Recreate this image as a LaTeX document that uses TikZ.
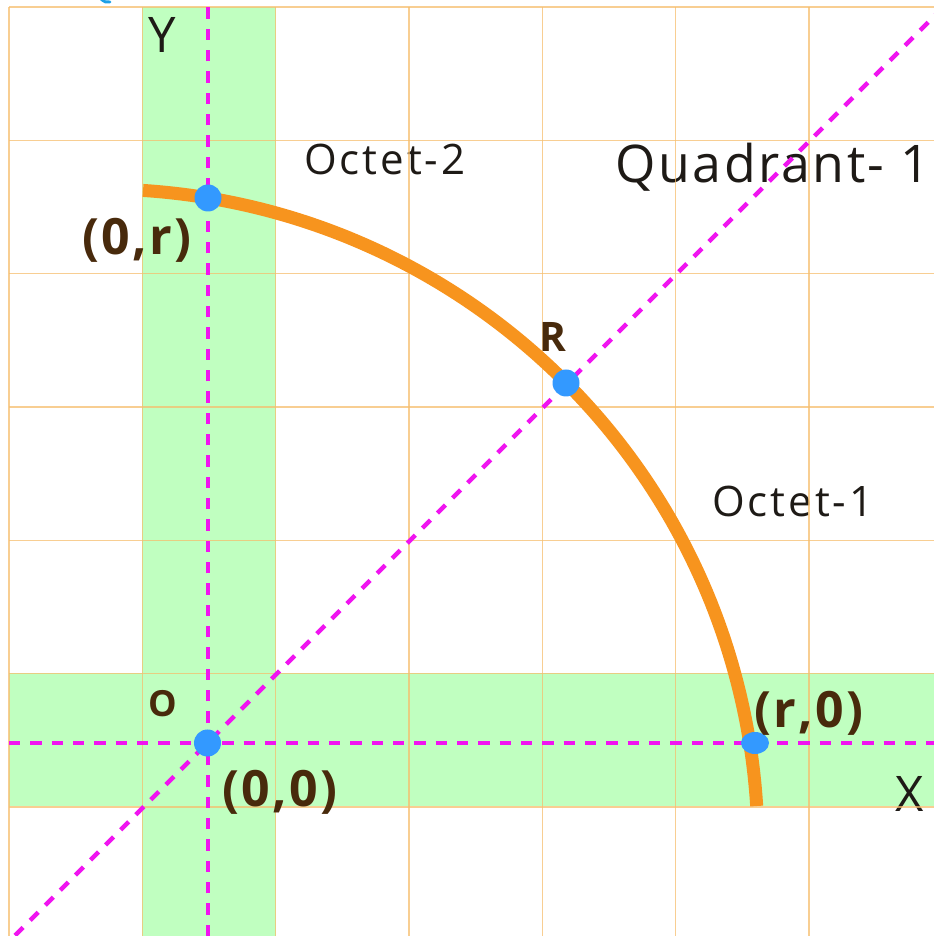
\documentclass[tikz,border=0pt]{standalone}
\usepackage{fontspec}
\setmainfont{Open Sans}
\newfontfamily\spacedfont[LetterSpace=7]{Open Sans}
\newfontfamily\quadfont[LetterSpace=5]{Open Sans}
\newfontfamily\boldspaced[LetterSpace=5]{Open Sans}
\usetikzlibrary{shapes.geometric}
\definecolor{bandgreen}{RGB}{192,255,192}
\definecolor{gridorange}{RGB}{245,190,110}
\definecolor{dashmag}{RGB}{240,20,240}
\definecolor{arcorange}{RGB}{247,148,30}
\definecolor{dotblue}{RGB}{51,153,255}
\definecolor{labelbrown}{RGB}{72,42,12}
\definecolor{labeldark}{RGB}{30,26,22}
\definecolor{cyanmark}{RGB}{30,160,230}
\begin{document}
\begin{tikzpicture}[x=0.75pt,y=0.75pt,
  gridline/.style={draw=gridorange, line width=1.1pt, opacity=0.75},
  axisdash/.style={draw=dashmag, line width=3.4pt, dash pattern=on 8.5pt off 7.5pt},
  arcline/.style={draw=arcorange, line width=9.75pt},
  dotmark/.style={circle, fill=dotblue, inner sep=0pt, minimum size=20.25pt},
  axislabel/.style={text=labeldark, inner sep=0pt, font=\fontsize{36.8pt}{40pt}\selectfont},
  octlabel/.style={text=labeldark, inner sep=0pt, font=\spacedfont\fontsize{31.5pt}{34pt}\selectfont},
  quadlabel/.style={text=labeldark, inner sep=0pt, font=\quadfont\fontsize{38.9pt}{42pt}\selectfont},
  boldlabel/.style={text=labelbrown, inner sep=0pt, font=\boldspaced\bfseries\fontsize{37.5pt}{40pt}\selectfont},
  smallbold/.style={text=labelbrown, inner sep=0pt, font=\bfseries\fontsize{30.5pt}{33pt}\selectfont},
]
\useasboundingbox (0,0) rectangle (934,936);
\begin{scope}
\clip (0,0) rectangle (934,936);
% green bands
\fill[bandgreen] (142,0) rectangle (276,929);
\fill[bandgreen] (9,130) rectangle (934,263);
% plain labels (under the grid)
\node[axislabel, anchor=base] (ylab) at (162.5,883) {Y};
\node[axislabel, anchor=base] (xlab) at (910,124) {X};
\node[quadlabel, anchor=base west] (quad) at (615,753) {Quadrant- 1};
\node[octlabel, anchor=base west] (oct2) at (304,761) {Octet-2};
\node[octlabel, anchor=base west] (oct1) at (712,419) {Octet-1};
% grid
\foreach \i in {0,...,7} {
  \draw[gridline] (9+133.33*\i,0) -- (9+133.33*\i,929);
  \draw[gridline] (9,929-133.33*\i) -- (934,929-133.33*\i);
}
% axes and diagonal
\coordinate (ytop) at (208,929);
\coordinate (ybot) at (208,0);
\coordinate (xleft) at (9,193);
\coordinate (xright) at (934,193);
\coordinate (dlow) at (0,-14.5);
\coordinate (dhigh) at (950,935.5);
\draw[axisdash] (ybot) -- (ytop);
\draw[axisdash] (xleft) -- (xright);
\draw[axisdash] (dlow) -- (dhigh);
% arc
\coordinate (arccentre) at (100,89);
\draw[arcline] (arccentre) ++(86.25:658) arc[start angle=86.25, end angle=3.57, radius=658];
% dots
\node[dotmark] (origin) at (207.5,193) {};
\node[dotmark] (pzr) at (208,738) {};
\node[dotmark] (pR) at (566,553) {};
\node[ellipse, fill=dotblue, inner sep=0pt, minimum width=21pt, minimum height=16.5pt] (prz) at (755,193) {};
% bold labels
\node[boldlabel, anchor=base west] (lzr) at (82,681) {(0,r)};
\node[boldlabel, anchor=base west] (lzz) at (222,129) {(0,0)};
\node[boldlabel, anchor=base west] (lrz) at (754,208) {(r,0)};
\node[smallbold, anchor=base] (lR) at (552.5,584) {R};
\node[smallbold, font=\bfseries\fontsize{27pt}{29pt}\selectfont, anchor=base] (lO) at (162.5,219) {O};
% small cyan mark at the top edge
\draw[cyanmark, line width=2.2pt, line cap=round] (100,938) .. controls (104,934) and (107,933) .. (110,934);
\end{scope}
\end{tikzpicture}
\end{document}
